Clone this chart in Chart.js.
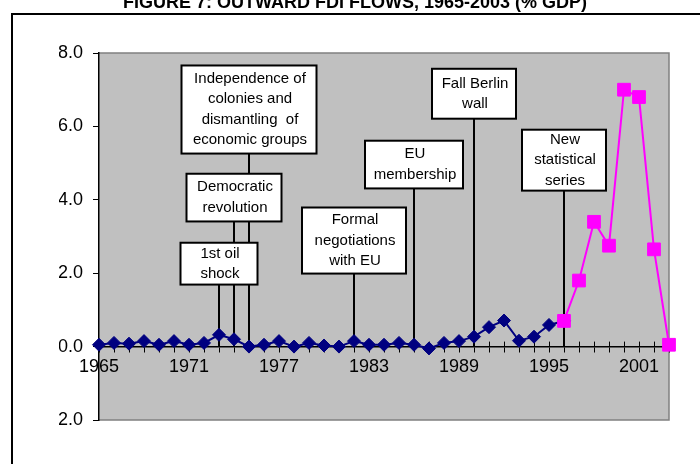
<!DOCTYPE html>
<html>
<head>
<meta charset="utf-8">
<script src="https://cdn.jsdelivr.net/npm/chart.js@4/dist/chart.umd.min.js"></script>
<style>
  body { margin: 0; background: #fff; }
</style>
</head>
<body>
<canvas id="fdichart" width="700" height="464"></canvas>
<script>
const title = 'FIGURE 7: OUTWARD FDI FLOWS, 1965-2003 (% GDP)';

const years = ['1965', '1966', '1967', '1968', '1969', '1970', '1971', '1972', '1973', '1974',
    '1975', '1976', '1977', '1978', '1979', '1980', '1981', '1982', '1983', '1984',
    '1985', '1986', '1987', '1988', '1989', '1990', '1991', '1992', '1993', '1994',
    '1995', '1996', '1997', '1998', '1999', '2000', '2001', '2002', '2003'];
const xTickLabels = ['1965', '1971', '1977', '1983', '1989', '1995', '2001'];

// old series 1965-1996, new statistical series 1996-2003
const oldYears = years.slice(0, 32);
const oldSeries = [0.05, 0.1, 0.08, 0.15, 0.05, 0.15, 0.05, 0.1, 0.32, 0.2,
    0.0, 0.05, 0.15, 0.0, 0.1, 0.03, 0.0, 0.15, 0.05, 0.05,
    0.1, 0.05, -0.05, 0.1, 0.15, 0.27, 0.53, 0.71, 0.16, 0.27,
    0.59, 0.7];
const newYears = ['1996', '1997', '1998', '1999', '2000', '2001', '2002', '2003'];
const newSeries = [0.7, 1.8, 3.4, 2.75, 7.0, 6.8, 2.65, 0.05];

const eventYears = ['1973', '1974', '1975', '1982', '1986', '1990', '1996'];
const eventLabels = [
    ['1st oil', 'shock'],
    ['Democratic', 'revolution'],
    ['Independence of', 'colonies and', 'dismantling  of', 'economic groups'],
    ['Formal', 'negotiations', 'with EU'],
    ['EU', 'membership'],
    ['Fall Berlin', 'wall'],
    ['New', 'statistical', 'series']
];
// box width in px, top / bottom in axis units
const eventBoxes = [
    { w: 77, top: 2.83, bottom: 1.69 },
    { w: 95, top: 4.71, bottom: 3.41 },
    { w: 135, top: 7.66, bottom: 5.26 },
    { w: 104, top: 3.79, bottom: 1.99 },
    { w: 98, top: 5.61, bottom: 4.31 },
    { w: 84, top: 7.57, bottom: 6.21 },
    { w: 84, top: 5.91, bottom: 4.25 }
];

const FONT = '"Liberation Sans", Arial, sans-serif';

const backdrop = {
    id: 'backdrop',
    beforeDraw(chart) {
        const { ctx, chartArea: a } = chart;
        ctx.save();
        ctx.fillStyle = '#fff';
        ctx.fillRect(0, 0, chart.width, chart.height);
        // title sits partly above the page edge
        ctx.fillStyle = '#000';
        ctx.font = 'bold 18px ' + FONT;
        ctx.textAlign = 'center';
        ctx.fillText(title, 355, 8);
        ctx.lineWidth = 2;
        ctx.strokeStyle = '#000';
        ctx.strokeRect(12, 14, 720, 480);
        ctx.fillStyle = '#c0c0c0';
        ctx.fillRect(a.left, a.top, a.width, a.height);
        ctx.strokeStyle = '#808080';
        ctx.lineWidth = 1.5;
        ctx.beginPath();
        ctx.moveTo(a.left, a.top);
        ctx.lineTo(a.right, a.top);
        ctx.lineTo(a.right, a.bottom);
        ctx.lineTo(a.left, a.bottom);
        ctx.stroke();
        ctx.restore();
    },
    beforeDatasetsDraw(chart) {
        const { ctx } = chart;
        const xs = chart.scales.x, ys = chart.scales.y;
        const y0 = ys.getPixelForValue(0);
        ctx.save();
        // upper half of the crossing ticks
        ctx.strokeStyle = '#000';
        ctx.lineWidth = 1;
        years.forEach((yr, i) => {
            const x = Math.round(xs.getPixelForValue(i)) + 0.5;
            ctx.beginPath();
            ctx.moveTo(x, y0 - 5);
            ctx.lineTo(x, y0);
            ctx.stroke();
        });
        // event boxes: lines first, boxes over them
        ctx.font = '15px ' + FONT;
        ctx.textAlign = 'center';
        ctx.textBaseline = 'middle';
        eventYears.forEach((yr, i) => {
            const b = eventBoxes[i];
            const x = xs.getPixelForValue(years.indexOf(yr));
            const bottom = ys.getPixelForValue(b.bottom);
            ctx.lineWidth = 2;
            ctx.strokeStyle = '#000';
            ctx.beginPath();
            ctx.moveTo(x, bottom);
            ctx.lineTo(x, y0);
            ctx.stroke();
        });
        eventYears.forEach((yr, i) => {
            const b = eventBoxes[i];
            const x = xs.getPixelForValue(years.indexOf(yr));
            const top = ys.getPixelForValue(b.top);
            const bottom = ys.getPixelForValue(b.bottom);
            ctx.fillStyle = '#fff';
            ctx.fillRect(x - b.w / 2, top, b.w, bottom - top);
            ctx.lineWidth = 2;
            ctx.strokeRect(x - b.w / 2, top, b.w, bottom - top);
            ctx.fillStyle = '#000';
            const lines = eventLabels[i];
            const mid = (top + bottom) / 2;
            lines.forEach((t, j) => {
                ctx.fillText(t, x + 1, mid + (j - (lines.length - 1) / 2) * 20.5);
            });
        });
        ctx.restore();
    }
};

const ctx = document.getElementById('fdichart').getContext('2d');
const fdiChart = new Chart(ctx, {
    type: 'line',
    data: {
        labels: years,
        datasets: [
            {
                label: 'Old series',
                data: oldSeries.map((v, i) => ({ x: oldYears[i], y: v })),
                borderColor: '#000080',
                backgroundColor: '#000080',
                borderWidth: 2,
                pointStyle: 'rectRot',
                pointRadius: 6.5,
                pointBorderWidth: 1,
                clip: false,
                order: 2
            },
            {
                label: 'New series',
                data: newSeries.map((v, i) => ({ x: newYears[i], y: v })),
                borderColor: '#ff00ff',
                backgroundColor: '#ff00ff',
                borderWidth: 2,
                pointStyle: 'rect',
                pointRadius: 9,
                pointBorderWidth: 1,
                clip: false,
                order: 1
            }
        ]
    },
    options: {
        responsive: false,
        animation: false,
        layout: { padding: { left: 59, right: 31, top: 53, bottom: 44 } },
        plugins: {
            legend: { display: false },
            tooltip: { enabled: false }
        },
        scales: {
            x: {
                type: 'category',
                position: { y: 0 },
                offset: false,
                grid: { drawOnChartArea: false, color: '#000', tickLength: 5, tickWidth: 1 },
                border: { color: '#000', width: 1.5 },
                ticks: {
                    autoSkip: false,
                    maxRotation: 0,
                    padding: 5,
                    color: '#000',
                    font: { family: FONT, size: 18 },
                    callback: function (v) {
                        const l = this.getLabelForValue(v);
                        return xTickLabels.includes(l) ? l : '';
                    }
                }
            },
            y: {
                min: -2,
                max: 8,
                afterFit(scale) { scale.width = 40; },
                grid: { drawOnChartArea: false, color: '#000', tickLength: 6 },
                border: { color: '#000', width: 1.5 },
                ticks: {
                    stepSize: 2,
                    padding: 10,
                    color: '#000',
                    font: { family: FONT, size: 18 },
                    callback: v => v.toFixed(1)
                }
            }
        }
    },
    plugins: [backdrop]
});
</script>
</body>
</html>
